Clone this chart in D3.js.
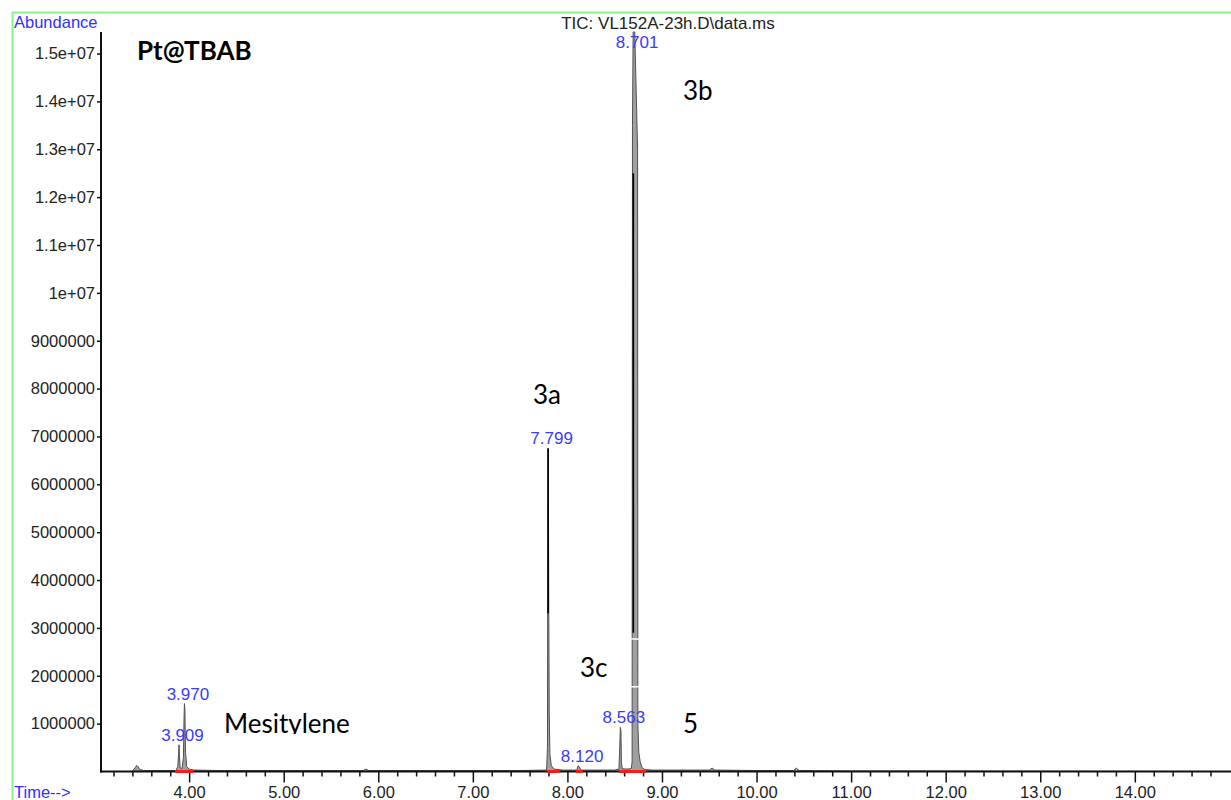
<!DOCTYPE html>
<html><head><meta charset="utf-8">
<script src="https://cdn.jsdelivr.net/npm/d3@7"></script>
<style>
html,body{margin:0;padding:0;background:#fff;}
svg{display:block;}
</style></head>
<body>
<svg id="chart" width="1231" height="800"></svg>
<script>
// ---------- data ----------
const chartTitle = "TIC: VL152A-23h.D\\data.ms";
const yAxisTitle = "Abundance";
const xAxisTitle = "Time-->";

const xTickValues = [4,5,6,7,8,9,10,11,12,13,14];
const xTickLabels = ["4.00","5.00","6.00","7.00","8.00","9.00","10.00","11.00","12.00","13.00","14.00"];
const yTickValues = [1e6,2e6,3e6,4e6,5e6,6e6,7e6,8e6,9e6,1e7,1.1e7,1.2e7,1.3e7,1.4e7,1.5e7];
const yTickLabels = ["1000000","2000000","3000000","4000000","5000000","6000000","7000000","8000000","9000000","1e+07","1.1e+07","1.2e+07","1.3e+07","1.4e+07","1.5e+07"];

// chromatogram trace (time in min, abundance in millions)
const traceTimes = [3.40,3.43,3.445,3.46,3.48,3.52,3.70,3.86,3.880,3.888,3.893,3.898,3.905,3.925,3.940,3.946,3.950,3.955,3.962,3.975,4.00,4.05,4.30,5.00,5.84,5.87,5.90,6.50,7.50,7.780,7.789,7.794,7.798,7.803,7.808,7.815,7.830,7.860,7.95,8.100,8.112,8.125,8.140,8.500,8.545,8.553,8.560,8.566,8.571,8.580,8.620,8.675,8.684,8.688,8.695,8.712,8.742,8.745,8.755,8.770,8.790,8.820,8.90,9.20,9.50,9.53,9.56,10.00,10.39,10.42,10.45,11.00,11.50,15.00];
const traceAbundMillions = [0.01,0.08,0.13,0.10,0.04,0.02,0.02,0.02,0.10,0.35,0.56,0.30,0.08,0.06,0.30,1.10,1.42,1.30,0.40,0.10,0.05,0.03,0.02,0.02,0.02,0.05,0.02,0.02,0.02,0.03,0.50,6.75,6.75,3.30,1.20,0.35,0.12,0.05,0.03,0.03,0.12,0.10,0.03,0.03,0.05,0.50,0.92,0.85,0.20,0.06,0.05,0.06,0.20,13.50,15.45,15.45,13.00,1.00,0.40,0.20,0.08,0.04,0.03,0.03,0.03,0.07,0.03,0.02,0.02,0.07,0.02,0.01,0.01,0.00];

// dark core of the large peaks (time, from, to in millions)
const coreTimes = [7.796, 8.697];
const coreFrom = [3.3, 2.9];
const coreTo = [6.75, 12.5];

// labelled peaks
const peakLabels = ["3.909","3.970","7.799","8.120","8.563","8.701"];
const peakApexTimes = [3.893,3.950,7.796,8.118,8.560,8.700];
const peakHeightsMillions = [0.56,1.42,6.75,0.12,0.92,15.45];

// integration baselines (red)
const integStart = [3.851,7.781,8.091,8.545];
const integEnd = [4.041,7.922,8.162,8.831];

// compound annotations
const annoTexts = ["Pt@TBAB","3b","3a","3c","Mesitylene","5"];

// ---------- drawing ----------
const svg = d3.select("#chart");
const W = 1231, H = 800;
const x = d3.scaleLinear().domain([3.068, 15.017]).range([101, 1231]);
const y = d3.scaleLinear().domain([0, 15.45e6]).range([771.5, 32]);
const FONT = "'Liberation Sans', Arial, sans-serif";
const ANNO = "Lato, 'Open Sans', sans-serif";

// green frame (top and left)
svg.append("line").attr("x1",12).attr("x2",W).attr("y1",12.5).attr("y2",12.5)
  .attr("stroke","#8ef08e").attr("stroke-width",2);
svg.append("line").attr("x1",12.5).attr("x2",12.5).attr("y1",12).attr("y2",H)
  .attr("stroke","#8ef08e").attr("stroke-width",2);

// trace
const trace = traceTimes.map((t,i)=>({t, v: traceAbundMillions[i]*1e6}));
svg.append("path").datum(trace)
  .attr("d", d3.area().x(d=>x(d.t)).y0(y(0)).y1(d=>y(d.v)))
  .attr("fill","#a0a0a0");
svg.append("path").datum(trace)
  .attr("d", d3.line().x(d=>x(d.t)).y(d=>y(d.v)))
  .attr("fill","none").attr("stroke","#505050").attr("stroke-width",1);
coreTimes.forEach((t,i)=>{
  svg.append("line").attr("x1",x(t)).attr("x2",x(t))
    .attr("y1",y(coreFrom[i]*1e6)).attr("y2",y(coreTo[i]*1e6))
    .attr("stroke","#000").attr("stroke-width",1.6);
});

// white text-box edges crossing the big peak (3c box)
[2.77e6, 1.77e6].forEach(v=>{
  svg.append("line").attr("x1",575).attr("x2",641).attr("y1",y(v)).attr("y2",y(v))
    .attr("stroke","#fff").attr("stroke-width",1.5);
});

// axes
const gx = svg.append("g").attr("transform",`translate(0,${y(0)})`);
const minor = d3.range(3.2, 15.01, 0.2).filter(v=>Math.abs(v-Math.round(v))>0.01);
gx.append("g").call(d3.axisBottom(x).tickValues(minor).tickSize(5).tickFormat(""))
  .call(g=>g.select(".domain").remove())
  .call(g=>g.selectAll("line").attr("stroke","#111").attr("stroke-width",1.5));
gx.append("g").call(d3.axisBottom(x).tickValues(xTickValues).tickSize(11)
    .tickFormat((d,i)=>xTickLabels[i]))
  .call(g=>g.select(".domain").remove())
  .call(g=>g.selectAll("line").attr("stroke","#111").attr("stroke-width",1.5))
  .call(g=>g.selectAll("text").attr("font-family",FONT).attr("font-size","16.5px")
     .attr("fill","#222").attr("y",15).attr("dy","0.71em"));
gx.append("line").attr("x1",100).attr("x2",W).attr("y1",0).attr("y2",0)
  .attr("stroke","#111").attr("stroke-width",2);

const gy = svg.append("g").attr("transform","translate(101,0)");
gy.call(d3.axisLeft(y).tickValues(yTickValues).tickSize(4).tickPadding(2)
    .tickFormat((d,i)=>yTickLabels[i]))
  .call(g=>g.select(".domain").remove())
  .call(g=>g.selectAll("line").attr("stroke","#111").attr("stroke-width",1.5))
  .call(g=>g.selectAll("text").attr("font-family",FONT).attr("font-size","16.5px").attr("fill","#222"));
gy.append("line").attr("x1",0).attr("x2",0).attr("y1",y(15.45e6)).attr("y2",y(0)+1)
  .attr("stroke","#111").attr("stroke-width",2);

// integration baselines
integStart.forEach((s,i)=>{
  svg.append("line").attr("x1",x(s)).attr("x2",x(integEnd[i]))
    .attr("y1",y(0)).attr("y2",y(0)).attr("stroke","#ff1a1a").attr("stroke-width",3);
});

// titles
svg.append("text").attr("x",14).attr("y",28).text(yAxisTitle)
  .attr("font-family",FONT).attr("font-size","16.5px").attr("fill","#3030ff");
svg.append("text").attr("x",14).attr("y",798).text(xAxisTitle)
  .attr("font-family",FONT).attr("font-size","16.5px").attr("fill","#3030ff");
svg.append("text").attr("x",668).attr("y",29).attr("text-anchor","middle").text(chartTitle)
  .attr("font-family",FONT).attr("font-size","17px").attr("fill","#222");

// peak labels
peakLabels.forEach((lab,i)=>{
  svg.append("text").attr("x",x(peakApexTimes[i])+3.5)
    .attr("y",Math.max(y(peakHeightsMillions[i]*1e6)-4, 48))
    .attr("text-anchor","middle").text(lab)
    .attr("font-family",FONT).attr("font-size","17px").attr("fill","#3a3aff");
});

// compound annotations
const defs = svg.append("defs");
defs.append("clipPath").attr("id","mesClip").append("rect")
  .attr("x",150).attr("y",680).attr("width",300).attr("height",54);
const annoPos = [[137,60,"bold"],[683,100,"normal"],[533,404,"normal"],[580,677,"normal"],[224,733,"normal"],[683,733,"normal"]];
annoTexts.forEach((t,i)=>{
  const el = svg.append("text").attr("x",annoPos[i][0]).attr("y",annoPos[i][1]).text(t)
    .attr("font-family",ANNO).attr("font-size", i===0?"26px":"26px")
    .attr("font-weight",annoPos[i][2]).attr("fill","#000");
  if (t==="Mesitylene") el.attr("clip-path","url(#mesClip)");
});
</script>
</body></html>
